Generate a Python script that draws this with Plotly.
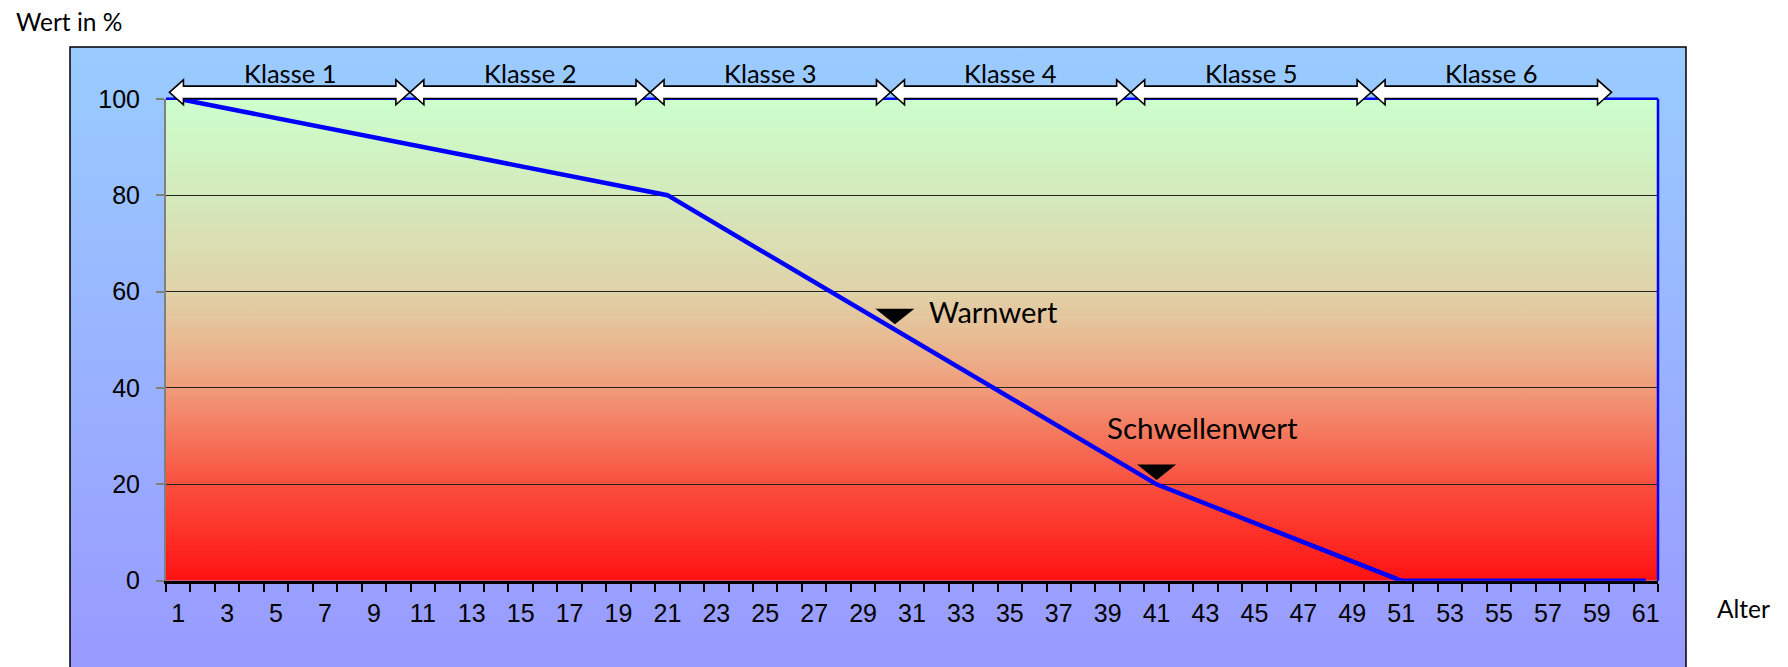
import base64
import plotly.graph_objects as go

# ---- data -------------------------------------------------------------
alter = [1, 21, 41, 51, 61]            # age at the breakpoints of the curve
wert = [100, 80, 20, 0, 0]             # value in % at those ages
alter_ticks = list(range(1, 62, 2))    # labelled ages on the x axis
alter_ticktext = [str(a) for a in alter_ticks]
wert_ticks = [0, 20, 40, 60, 80, 100]

klassen = ["Klasse 1", "Klasse 2", "Klasse 3", "Klasse 4", "Klasse 5", "Klasse 6"]
klassen_grenzen = [0.64, 10.47, 20.29, 30.12, 39.94, 49.77, 59.6]  # in age units

warnwert = (30.3, 53.2)        # (age, value) the marker points at
schwellenwert = (41.0, 20.9)

# ---- geometry ---------------------------------------------------------
W, H = 1788, 667
PLOT_L, PLOT_R = 166, 1658      # px
PLOT_T, PLOT_B = 98.8, 580.7    # px
X_MIN, X_MAX = 0.5, 61.5
px_per_x = (PLOT_R - PLOT_L) / (X_MAX - X_MIN)

def px_x(p):
    return p / W

def px_y(p):
    return (H - p) / H

def gradient_uri(stops):
    st = "".join(
        f'<stop offset="{o}" stop-color="{c}"/>' for o, c in stops
    )
    svg = (
        '<svg xmlns="http://www.w3.org/2000/svg" width="100" height="100" '
        'viewBox="0 0 100 100" preserveAspectRatio="none">'
        '<defs><linearGradient id="g" x1="0" y1="0" x2="0" y2="1">'
        f'{st}</linearGradient></defs>'
        '<rect x="0" y="0" width="100" height="100" fill="url(#g)"/></svg>'
    )
    return "data:image/svg+xml;base64," + base64.b64encode(svg.encode()).decode()

outer_grad = gradient_uri([(0, "#99CCFF"), (1, "#9999FF")])
plot_grad = gradient_uri([
    (0.00, "rgb(204,255,204)"),
    (0.20, "rgb(212,234,188)"),
    (0.40, "rgb(224,210,168)"),
    (0.50, "rgb(232,186,146)"),
    (0.60, "rgb(240,156,122)"),
    (0.80, "rgb(250,80,62)"),
    (1.00, "rgb(255,18,18)"),
])

BOX_L, BOX_R, BOX_T = 70, 1686, 47

fig = go.Figure()

fig.add_trace(go.Scatter(
    x=alter, y=wert, mode="lines",
    line=dict(color="#0000FF", width=4.5),
    cliponaxis=False, hoverinfo="skip", showlegend=False,
))

label_font = "Lato, 'Open Sans', sans-serif"
tick_font = dict(family="'Liberation Sans', Arial, sans-serif", size=25, color="black")

fig.update_layout(
    width=W, height=H,
    margin=dict(l=0, r=0, t=0, b=0, autoexpand=False),
    paper_bgcolor="white",
    plot_bgcolor="rgba(0,0,0,0)",
    showlegend=False,
    xaxis=dict(
        domain=[px_x(PLOT_L), px_x(PLOT_R)],
        range=[X_MIN, X_MAX], fixedrange=True, automargin=False,
        tickmode="array", tickvals=alter_ticks, ticktext=alter_ticktext,
        ticks="", tickfont=tick_font, ticklabelstandoff=8,
        showgrid=False, zeroline=False,
        showline=True, linecolor="black", linewidth=3,
        minor=dict(ticks="outside", tick0=0.5, dtick=1, ticklen=8,
                   tickwidth=2, tickcolor="black", showgrid=False),
        layer="below traces",
    ),
    yaxis=dict(
        domain=[px_y(PLOT_B), px_y(PLOT_T)],
        range=[0, 100], fixedrange=True, automargin=False,
        tickmode="array", tickvals=wert_ticks,
        ticks="outside", ticklen=8, tickwidth=1.5, tickcolor="#808080",
        tickfont=tick_font, ticklabelstandoff=11,
        showgrid=True, gridcolor="#222222", gridwidth=1,
        zeroline=False,
        showline=True, linecolor="#808080", linewidth=2,
        layer="below traces",
    ),
)

# background gradients
fig.add_layout_image(dict(
    source=outer_grad, xref="paper", yref="paper",
    x=px_x(BOX_L), y=px_y(BOX_T),
    sizex=px_x(BOX_R) - px_x(BOX_L), sizey=px_y(BOX_T) - px_y(H + 10),
    sizing="stretch", xanchor="left", yanchor="top", layer="below",
))
fig.add_layout_image(dict(
    source=plot_grad, xref="paper", yref="paper",
    x=px_x(PLOT_L), y=px_y(PLOT_T),
    sizex=px_x(PLOT_R) - px_x(PLOT_L), sizey=px_y(PLOT_T) - px_y(PLOT_B),
    sizing="stretch", xanchor="left", yanchor="top", layer="below",
))

# outer frame
fig.add_shape(type="rect", xref="paper", yref="paper",
              x0=px_x(BOX_L), x1=px_x(BOX_R), y0=px_y(H + 10), y1=px_y(BOX_T),
              line=dict(color="black", width=1.5), fillcolor="rgba(0,0,0,0)",
              layer="below")

# blue plot-area border (top and right)
fig.add_shape(type="line", xref="paper", yref="paper",
              x0=px_x(PLOT_L), x1=px_x(PLOT_R), y0=px_y(PLOT_T), y1=px_y(PLOT_T),
              line=dict(color="#0000FF", width=2.5), layer="above")
fig.add_shape(type="line", xref="paper", yref="paper",
              x0=px_x(PLOT_R), x1=px_x(PLOT_R), y0=px_y(PLOT_B), y1=px_y(PLOT_T),
              line=dict(color="#0000FF", width=2.5), layer="above")

# class arrows (double headed), y measured in pixels around a fixed band
ARROW_Y = px_y(92.3)
HEAD = 14 / px_per_x
HH, SH = 12.5, 6.2

def arrow_path(a, b):
    pts = [
        (a, 0), (a + HEAD, HH), (a + HEAD, SH), (b - HEAD, SH), (b - HEAD, HH),
        (b, 0), (b - HEAD, -HH), (b - HEAD, -SH), (a + HEAD, -SH), (a + HEAD, -HH),
    ]
    return "M " + " L ".join(f"{x:.4f},{y:.2f}" for x, y in pts) + " Z"

paths = [arrow_path(klassen_grenzen[i], klassen_grenzen[i + 1]) for i in range(len(klassen))]
for p in paths:
    fig.add_shape(type="path", path=p, xref="x", yref="paper",
                  ysizemode="pixel", yanchor=ARROW_Y,
                  fillcolor="white", line=dict(width=0), layer="above")
for p in paths:
    fig.add_shape(type="path", path=p, xref="x", yref="paper",
                  ysizemode="pixel", yanchor=ARROW_Y,
                  fillcolor="rgba(0,0,0,0)", line=dict(color="black", width=1.6),
                  layer="above")

for i, name in enumerate(klassen):
    mid = (klassen_grenzen[i] + klassen_grenzen[i + 1]) / 2
    fig.add_annotation(x=mid, y=px_y(72.5), xref="x", yref="paper",
                       text=name, showarrow=False, xanchor="center", yanchor="middle",
                       font=dict(family=label_font, size=25.5, color="black"))

# threshold markers
def marker(pt, label, dx, dy, size):
    fig.add_shape(type="path", xref="x", yref="y",
                  xsizemode="pixel", ysizemode="pixel",
                  xanchor=pt[0], yanchor=pt[1],
                  path="M -19.5,15.5 L 19.5,15.5 L 0,0 Z",
                  fillcolor="black", line=dict(width=0), layer="above")
    fig.add_annotation(x=pt[0], y=pt[1], xref="x", yref="y", text=label,
                       showarrow=False, xanchor="left", yanchor="middle",
                       xshift=dx, yshift=dy,
                       font=dict(family=label_font, size=size, color="black"))

marker(warnwert, "Warnwert", 32, 13, 29)
marker(schwellenwert, "Schwellenwert", -52, 52, 29.5)

# axis captions
fig.add_annotation(x=px_x(14), y=px_y(22), xref="paper", yref="paper",
                   text="Wert in %", showarrow=False, xanchor="left", yanchor="middle",
                   font=dict(family=label_font, size=24.5, color="black"))
fig.add_annotation(x=px_x(1715), y=px_y(608), xref="paper", yref="paper",
                   text="Alter", showarrow=False, xanchor="left", yanchor="middle",
                   font=dict(family=label_font, size=24.5, color="black"))

fig.write_html("out.html")
